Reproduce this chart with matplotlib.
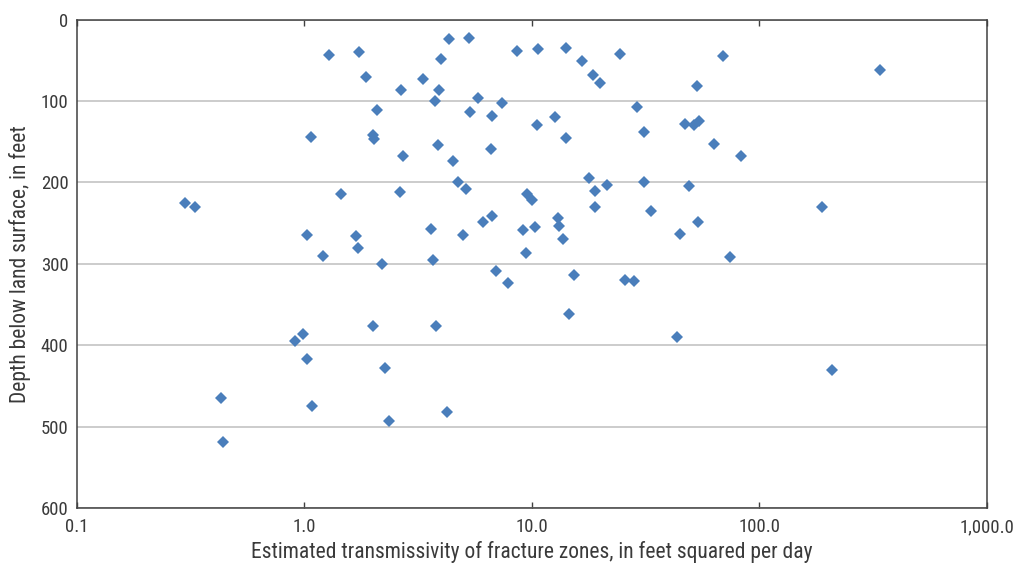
import matplotlib
matplotlib.use("Agg")
import matplotlib.pyplot as plt
from matplotlib.ticker import FixedLocator, FixedFormatter, NullLocator

plt.rcParams['font.family'] = ['Roboto Condensed', 'DejaVu Sans']

# Estimated transmissivity of fracture zones (ft^2/day)
transmissivity = [
    1.28, 1.07, 0.30, 0.33, 1.03, 1.21,
    1.74, 1.87, 2.66, 3.33, 3.90, 3.74, 4.32, 5.29, 3.98, 2.09, 2.00, 2.02,
    2.71, 3.88, 4.52, 4.74, 5.12, 1.45, 2.63, 5.82, 5.35, 6.71, 7.42, 6.62,
    8.61, 10.65, 14.2, 16.7, 18.6, 19.9, 24.5, 28.9, 31.0, 10.5, 12.7, 14.2,
    17.8, 18.9, 21.4, 31.0, 33.3, 19.0, 9.50, 9.99, 1.68, 1.72, 2.19, 3.59,
    3.68, 4.97, 6.12, 6.68, 9.18, 10.3, 13.0, 13.2, 13.7, 9.46, 6.98, 7.88,
    15.4, 25.7, 28.1,
    69.5, 53.4, 339.0, 47.3, 51.8, 54.2, 63.5, 83.4, 49.1, 189.0, 53.7, 44.7,
    74.6,
    0.99, 0.91, 1.03, 0.43, 1.08, 0.44,
    2.01, 3.80, 14.5, 2.27, 2.36, 4.22,
    43.4, 208.0,
]

# Depth below land surface (ft)
depth = [
    44, 144, 225, 230, 265, 290,
    40, 71, 86, 73, 87, 100, 24, 23, 48, 111, 142, 147,
    167, 154, 174, 199, 208, 214, 212, 96, 114, 119, 103, 159,
    39, 36, 35, 51, 68, 78, 42, 107, 138, 129, 120, 145,
    194, 210, 203, 199, 235, 230, 214, 221, 266, 280, 300, 257,
    295, 264, 248, 241, 258, 255, 244, 253, 269, 287, 309, 323,
    314, 320, 321,
    45, 82, 62, 128, 130, 125, 153, 167, 204, 230, 248, 263,
    292,
    386, 394, 417, 465, 474, 518,
    376, 376, 361, 428, 493, 482,
    390, 430,
]

x_ticks = [0.1, 1.0, 10.0, 100.0, 1000.0]
x_tick_labels = ["0.1", "1.0", "10.0", "100.0", "1,000.0"]
y_ticks = [0, 100, 200, 300, 400, 500, 600]
y_tick_labels = ["0", "100", "200", "300", "400", "500", "600"]

fig = plt.figure(figsize=(10.13, 5.64), dpi=100)
ax = fig.add_axes([0.076, 0.0987, 0.974 - 0.076, 0.9654 - 0.0987])

ax.plot(transmissivity, depth, linestyle="none", marker="D", markersize=6.4,
        color="#4A7EBB", markeredgewidth=0, zorder=3)

ax.set_xscale("log")
ax.set_xlim(0.1, 1000)
ax.set_ylim(600, 0)

ax.xaxis.set_major_locator(FixedLocator(x_ticks))
ax.xaxis.set_major_formatter(FixedFormatter(x_tick_labels))
ax.xaxis.set_minor_locator(NullLocator())
ax.yaxis.set_major_locator(FixedLocator(y_ticks))
ax.yaxis.set_major_formatter(FixedFormatter(y_tick_labels))

ax.tick_params(axis="x", which="major", direction="in", top=True, bottom=True,
               length=4, width=1.0, color="#404040", labelsize=13.5,
               labelcolor="#3a3a3a", pad=7)
ax.tick_params(axis="y", which="major", length=0, labelsize=13.5,
               labelcolor="#3a3a3a", pad=6)

ax.grid(axis="y", color="#BFBFBF", linewidth=1.1, zorder=0)
ax.set_axisbelow(True)

for side in ["left", "bottom", "top", "right"]:
    ax.spines[side].set_color("#404040")
    ax.spines[side].set_linewidth(1.1)

ax.set_xlabel("Estimated transmissivity of fracture zones, in feet squared per day",
              fontsize=15.5, color="#3a3a3a", labelpad=3.5)
ax.set_ylabel("Depth below land surface, in feet", fontsize=15.5, color="#3a3a3a",
              labelpad=7)

fig.savefig("out.png", dpi=100)
